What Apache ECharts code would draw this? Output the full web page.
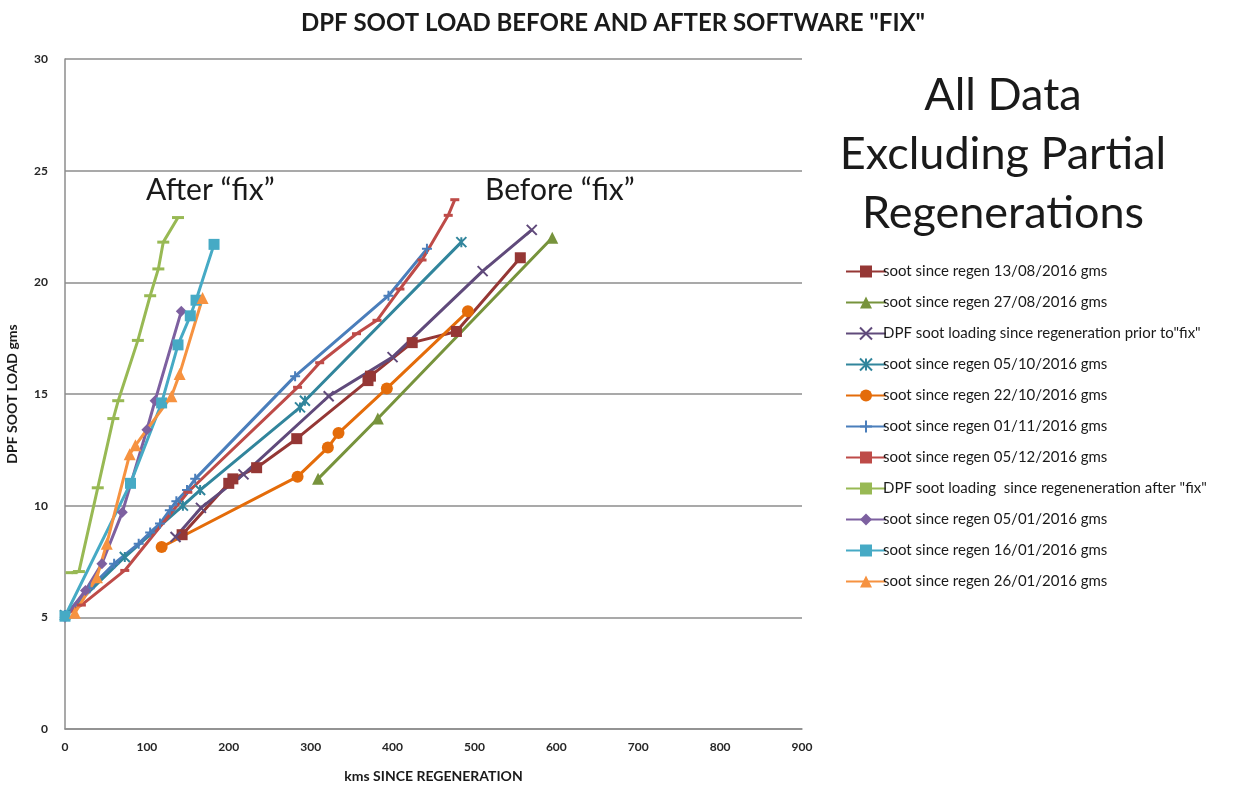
<!DOCTYPE html>
<html>
<head>
<meta charset="utf-8">
<title>DPF soot load</title>
<script src="https://cdn.jsdelivr.net/npm/echarts@6/dist/echarts.min.js"></script>
<style>
  html, body { margin: 0; padding: 0; background: #fff; }
  #chart { width: 1233px; height: 787px; }
</style>
</head>
<body>
<div id="chart"></div>
<script>
// [kms since regeneration, soot load gms]
const regen1308 = [[143, 8.7], [200, 11.0], [205, 11.2], [234, 11.7], [283, 13.0], [370, 15.6], [373, 15.8], [424, 17.3], [478, 17.8], [556, 21.1]]
const regen2708 = [[309, 11.2], [382, 13.9], [595, 22.0]]
const priorFix = [[135, 8.6], [166, 9.9], [218, 11.4], [322, 14.9], [400, 16.65], [510, 20.5], [570, 22.35]]
const regen0510 = [[0, 5.1], [73, 7.7], [144, 10.0], [165, 10.7], [287, 14.4], [293, 14.7], [484, 21.8]]
const regen2210 = [[118, 8.15], [284, 11.3], [321, 12.6], [334, 13.25], [393, 15.25], [492, 18.7]]
const regen0111 = [[0, 5.1], [30, 6.3], [60, 7.4], [90, 8.3], [104, 8.8], [116, 9.2], [128, 9.8], [136, 10.2], [149, 10.7], [159, 11.2], [281, 15.8], [395, 19.4], [442, 21.5]]
const regen0512 = [[0, 5.1], [20, 5.55], [73, 7.1], [150, 10.6], [284, 15.3], [311, 16.4], [356, 17.7], [381, 18.3], [409, 19.7], [436, 21.0], [468, 23.0], [476, 23.7]]
const afterFix = [[8, 7.0], [17, 7.05], [40, 10.8], [59, 13.9], [65, 14.7], [89, 17.4], [104, 19.4], [114, 20.6], [120, 21.8], [138, 22.9]]
const regen0501 = [[0, 5.0], [25, 6.2], [45, 7.4], [70, 9.7], [100, 13.4], [110, 14.7], [142, 18.7]]
const regen1601 = [[0, 5.05], [80, 11.0], [118, 14.6], [138, 17.2], [153, 18.5], [160, 19.2], [182, 21.7]]
const regen2601 = [[12, 5.2], [39, 6.8], [51, 8.3], [79, 12.3], [86, 12.7], [130, 14.9], [140, 15.9], [168, 19.3]]

const seriesNames = [
  'soot since regen 13/08/2016 gms',
  'soot since regen 27/08/2016 gms',
  'DPF soot loading since regeneration prior to"fix"',
  'soot since regen 05/10/2016 gms',
  'soot since regen 22/10/2016 gms',
  'soot since regen 01/11/2016 gms',
  'soot since regen 05/12/2016 gms',
  'DPF soot loading  since regeneneration after "fix"',
  'soot since regen 05/01/2016 gms',
  'soot since regen 16/01/2016 gms',
  'soot since regen 26/01/2016 gms'
]
const xTicks = { min: 0, max: 900, step: 100 }
const yTicks = { min: 0, max: 30, step: 5 }

const CROSS = 'path://M0,0L10,10M10,0L0,10'
const PLUS = 'path://M5,0L5,10M0,5L10,5'
const STAR = 'path://M0,0L10,10M10,0L0,10M5,0L5,10'
const DASH = 'path://M0,0L10,0L10,3L0,3Z'

const font = 'Lato, "Open Sans", sans-serif'

function mk(name, data, color, symbol, size, stroke) {
  return {
    name: name,
    type: 'line',
    data: data,
    symbol: symbol,
    symbolSize: size,
    showSymbol: true,
    lineStyle: { color: color, width: 3 },
    itemStyle: stroke
      ? { color: color, borderColor: color, borderWidth: 2 }
      : { color: color },
    emphasis: { disabled: true },
    animation: false
  }
}

const chart = echarts.init(document.getElementById('chart'))
chart.setOption({
  backgroundColor: '#fff',
  animation: false,
  title: {
    text: 'DPF SOOT LOAD BEFORE AND AFTER SOFTWARE "FIX"',
    left: 608,
    textAlign: 'center',
    top: 6,
    textStyle: { fontFamily: font, fontSize: 24, fontWeight: 'bold', color: '#1a1a1a' }
  },
  grid: { left: 65, right: 431, top: 59, bottom: 58, outerBoundsMode: 'none' },
  xAxis: {
    type: 'value',
    min: xTicks.min,
    max: xTicks.max,
    interval: xTicks.step,
    name: 'kms SINCE REGENERATION',
    nameLocation: 'middle',
    nameGap: 40,
    nameTextStyle: { fontFamily: font, fontSize: 14, fontWeight: 'bold', color: '#1a1a1a' },
    axisLine: { lineStyle: { color: '#8c8c8c', width: 1.5 } },
    axisTick: { show: false },
    axisLabel: { margin: 12, fontFamily: font, fontSize: 12, fontWeight: 'bold', color: '#262626' },
    splitLine: { show: false }
  },
  yAxis: {
    type: 'value',
    min: yTicks.min,
    max: yTicks.max,
    interval: yTicks.step,
    name: 'DPF SOOT LOAD gms',
    nameLocation: 'middle',
    nameGap: 46,
    nameTextStyle: { fontFamily: font, fontSize: 14, fontWeight: 'bold', color: '#1a1a1a' },
    axisLine: { show: true, lineStyle: { color: '#8c8c8c', width: 1.5 } },
    axisTick: { show: false },
    axisLabel: { margin: 17, fontFamily: font, fontSize: 12, fontWeight: 'bold', color: '#262626' },
    splitLine: { show: true, lineStyle: { color: '#8c8c8c', width: 1.5 } }
  },
  legend: {
    orient: 'vertical',
    left: 840,
    top: 259,
    itemWidth: 40,
    itemHeight: 15,
    itemGap: 16,
    data: seriesNames,
    textStyle: { fontFamily: font, fontSize: 15, color: '#1a1a1a', padding: [0, 0, 0, -8] }
  },
  graphic: [
    { type: 'text', left: 146, top: 175, style: { text: 'After \u201cfix\u201d', font: '30px ' + font, fill: '#1a1a1a' } },
    { type: 'text', left: 485, top: 175, style: { text: 'Before \u201cfix\u201d', font: '30px ' + font, fill: '#1a1a1a' } },
    {
      type: 'text',
      style: {
        x: 1003, y: 66,
        text: 'All Data\nExcluding Partial\nRegenerations',
        font: '45px ' + font, fill: '#1a1a1a', align: 'center', lineHeight: 59
      }
    }
  ],
  series: [
    mk(seriesNames[0], regen1308, '#953735', 'rect', 11),
    mk(seriesNames[1], regen2708, '#77933C', 'triangle', 12),
    mk(seriesNames[2], priorFix, '#604A7B', CROSS, 10, true),
    mk(seriesNames[3], regen0510, '#31859C', STAR, 10, true),
    mk(seriesNames[4], regen2210, '#E46C0A', 'circle', 12),
    mk(seriesNames[5], regen0111, '#4A7EBB', PLUS, 10, true),
    mk(seriesNames[6], regen0512, '#BE4B48', DASH, [9, 3]),
    mk(seriesNames[7], afterFix, '#98B954', DASH, [12, 3]),
    mk(seriesNames[8], regen0501, '#7D60A0', 'diamond', 11),
    mk(seriesNames[9], regen1601, '#46AAC5', 'rect', 11),
    mk(seriesNames[10], regen2601, '#F69240', 'triangle', 12)
  ]
})
</script>
</body>
</html>
